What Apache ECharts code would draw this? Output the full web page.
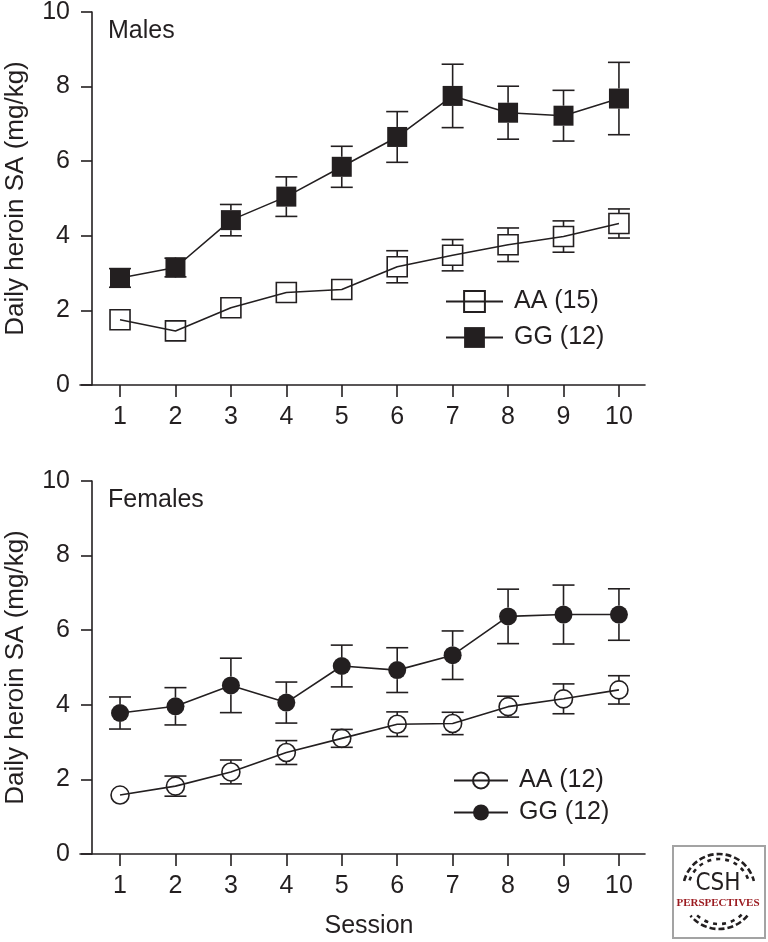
<!DOCTYPE html>
<html><head><meta charset="utf-8">
<script src="https://cdn.jsdelivr.net/npm/echarts@6/dist/echarts.min.js"></script>
<style>html,body{margin:0;padding:0;background:#fff}#c{width:768px;height:942px}</style>
</head><body><div id="c"></div>
<script>
// ---- data ----
const sessions = [1, 2, 3, 4, 5, 6, 7, 8, 9, 10];
const yTicks = [0, 2, 4, 6, 8, 10];
const maleAA    = [1.75, 1.45, 2.07, 2.48, 2.56, 3.17, 3.48, 3.76, 3.98, 4.33];
const maleAAErr = [0.15, 0.12, 0.15, 0.15, 0.20, 0.43, 0.42, 0.45, 0.42, 0.39];
const maleGG    = [2.87, 3.15, 4.42, 5.05, 5.85, 6.65, 7.75, 7.30, 7.22, 7.68];
const maleGGErr = [0.25, 0.25, 0.42, 0.53, 0.55, 0.68, 0.85, 0.71, 0.68, 0.97];
const femAA     = [1.58, 1.82, 2.20, 2.72, 3.10, 3.48, 3.50, 3.95, 4.16, 4.40];
const femAAErr  = [0.08, 0.27, 0.32, 0.32, 0.24, 0.33, 0.30, 0.28, 0.40, 0.38];
const femGG     = [3.78, 3.96, 4.52, 4.06, 5.04, 4.93, 5.33, 6.37, 6.42, 6.42];
const femGGErr  = [0.43, 0.50, 0.73, 0.55, 0.56, 0.60, 0.65, 0.73, 0.79, 0.69];
const panelTitles = ['Males', 'Females'];
const legendTop = ['AA (15)', 'GG (12)'];
const legendBottom = ['AA (12)', 'GG (12) '];
const yName = 'Daily heroin SA (mg/kg)';
const xName = 'Session';

// ---- style ----
const FONT = 'Liberation Sans';
const INK = '#231f20';
const LW = 1.6;

function makeX(gi) {
  return {
    type: 'value', gridIndex: gi, min: 0.278, max: 10.47,
    axisLine: { show: true, onZero: false, lineStyle: { color: INK, width: LW } },
    axisTick: { show: true, length: 12, customValues: sessions, lineStyle: { color: INK, width: LW } },
    axisLabel: { show: true, margin: 20, fontSize: 25, fontFamily: FONT, color: INK, customValues: sessions },
    splitLine: { show: false }
  };
}
function makeY(gi) {
  return {
    type: 'value', gridIndex: gi, min: 0, max: 10, interval: 2, offset: -12,
    name: yName, nameLocation: 'middle', nameGap: 63,
    nameTextStyle: { fontSize: 26, fontFamily: FONT, color: INK },
    axisLine: { show: true, lineStyle: { color: INK, width: LW } },
    axisTick: { show: true, length: 11, customValues: yTicks, lineStyle: { color: INK, width: LW } },
    axisLabel: { margin: 22, fontSize: 25, fontFamily: FONT, color: INK, customValues: yTicks },
    splitLine: { show: false }
  };
}
function lineSeries(gi, name, vals, symbol, size, filled) {
  return {
    type: 'line', name: name, xAxisIndex: gi, yAxisIndex: gi, z: 3,
    data: sessions.map((s, i) => [s, vals[i]]),
    symbol: symbol, symbolSize: size, showAllSymbol: true,
    itemStyle: filled ? { color: INK, borderColor: INK, borderWidth: 0 }
                      : { color: 'rgba(255,255,255,0)', borderColor: INK, borderWidth: LW },
    lineStyle: { color: INK, width: LW },
    emphasis: { disabled: true }
  };
}
function errSeries(gi, vals, errs, half) {
  return {
    type: 'custom', xAxisIndex: gi, yAxisIndex: gi, z: 2, silent: true,
    data: sessions.map((s, i) => [s, vals[i], errs[i]]),
    encode: { x: 0, y: 1 },
    renderItem: function (params, api) {
      const x = api.value(0), m = api.value(1), e = api.value(2);
      const c = api.coord([x, m]), t = api.coord([x, m + e]), b = api.coord([x, m - e]);
      const cap = 11;
      const st = { stroke: INK, lineWidth: LW };
      const ch = [];
      if (c[1] - t[1] > half - 1) {
        ch.push({ type: 'line', shape: { x1: c[0], y1: t[1], x2: c[0], y2: c[1] - half }, style: st });
        ch.push({ type: 'line', shape: { x1: c[0] - cap, y1: t[1], x2: c[0] + cap, y2: t[1] }, style: st });
      }
      if (b[1] - c[1] > half - 1) {
        ch.push({ type: 'line', shape: { x1: c[0], y1: c[1] + half, x2: c[0], y2: b[1] }, style: st });
        ch.push({ type: 'line', shape: { x1: c[0] - cap, y1: b[1], x2: c[0] + cap, y2: b[1] }, style: st });
      }
      return { type: 'group', children: ch };
    }
  };
}

const chart = echarts.init(document.getElementById('c'), null, { renderer: 'canvas' });
const txt = { fontSize: 25, fontFamily: FONT, color: INK, padding: [0, 0, 0, 6] };
chart.setOption({
  animation: false,
  backgroundColor: '#fff',
  grid: [
    { left: 80, right: 123, top: 12, height: 373, outerBoundsMode: 'none', containLabel: false },
    { left: 80, right: 123, top: 481, height: 373, outerBoundsMode: 'none', containLabel: false }
  ],
  xAxis: [makeX(0), makeX(1)],
  yAxis: [makeY(0), makeY(1)],
  title: [
    { text: panelTitles[0], left: 108, top: 19, padding: 0, textStyle: { fontSize: 25, fontWeight: 'normal', fontFamily: FONT, color: INK } },
    { text: panelTitles[1], left: 108, top: 488, padding: 0, textStyle: { fontSize: 25, fontWeight: 'normal', fontFamily: FONT, color: INK } }
  ],
  legend: [
    { data: legendTop, orient: 'vertical', left: 445, top: 289, padding: 0, itemWidth: 57, itemHeight: 26, itemGap: 11, textStyle: txt, selectedMode: false },
    { data: legendBottom, orient: 'vertical', left: 453, top: 768, padding: 0, itemWidth: 54, itemHeight: 20, itemGap: 7, textStyle: txt, selectedMode: false }
  ],
  series: [
    errSeries(0, maleAA, maleAAErr, 10),
    errSeries(0, maleGG, maleGGErr, 10),
    lineSeries(0, legendTop[0], maleAA, 'rect', 20, false),
    lineSeries(0, legendTop[1], maleGG, 'rect', 20, true),
    errSeries(1, femAA, femAAErr, 9),
    errSeries(1, femGG, femGGErr, 9),
    lineSeries(1, legendBottom[0], femAA, 'circle', 18, false),
    lineSeries(1, legendBottom[1], femGG, 'circle', 18, true)
  ],
  graphic: [
    { type: 'text', x: 369, y: 926, style: { text: xName, fontSize: 25, fontFamily: FONT, fill: INK, align: 'center', verticalAlign: 'middle' } },
    { type: 'rect', shape: { x: 673, y: 846, width: 92, height: 92 }, style: { fill: '#fff', stroke: '#a3a3a3', lineWidth: 2 } },
    { type: 'arc', shape: { cx: 719, cy: 890, r: 36, startAngle: Math.PI * 1.08, endAngle: Math.PI * 1.92 }, style: { fill: 'none', stroke: INK, lineWidth: 2.6, lineDash: [6, 3] } },
    { type: 'arc', shape: { cx: 719, cy: 890, r: 31, startAngle: Math.PI * 1.1, endAngle: Math.PI * 1.9 }, style: { fill: 'none', stroke: INK, lineWidth: 2.6, lineDash: [4, 5] } },
    { type: 'arc', shape: { cx: 719, cy: 892, r: 37, startAngle: Math.PI * 0.22, endAngle: Math.PI * 0.78 }, style: { fill: 'none', stroke: INK, lineWidth: 2.6, lineDash: [6, 3] } },
    { type: 'arc', shape: { cx: 719, cy: 892, r: 32, startAngle: Math.PI * 0.25, endAngle: Math.PI * 0.75 }, style: { fill: 'none', stroke: INK, lineWidth: 2.6, lineDash: [4, 5] } },
    { type: 'text', x: 718, y: 884, style: { text: 'CSH', fontSize: 24, fontFamily: 'DejaVu Sans Condensed', fill: INK, align: 'center', verticalAlign: 'middle' } },
    { type: 'text', x: 718, y: 903, style: { text: 'PERSPECTIVES', fontSize: 11, fontWeight: 'bold', fontFamily: 'Liberation Serif', fill: '#9b1b20', align: 'center', verticalAlign: 'middle' } }
  ]
});
</script>
</body></html>
